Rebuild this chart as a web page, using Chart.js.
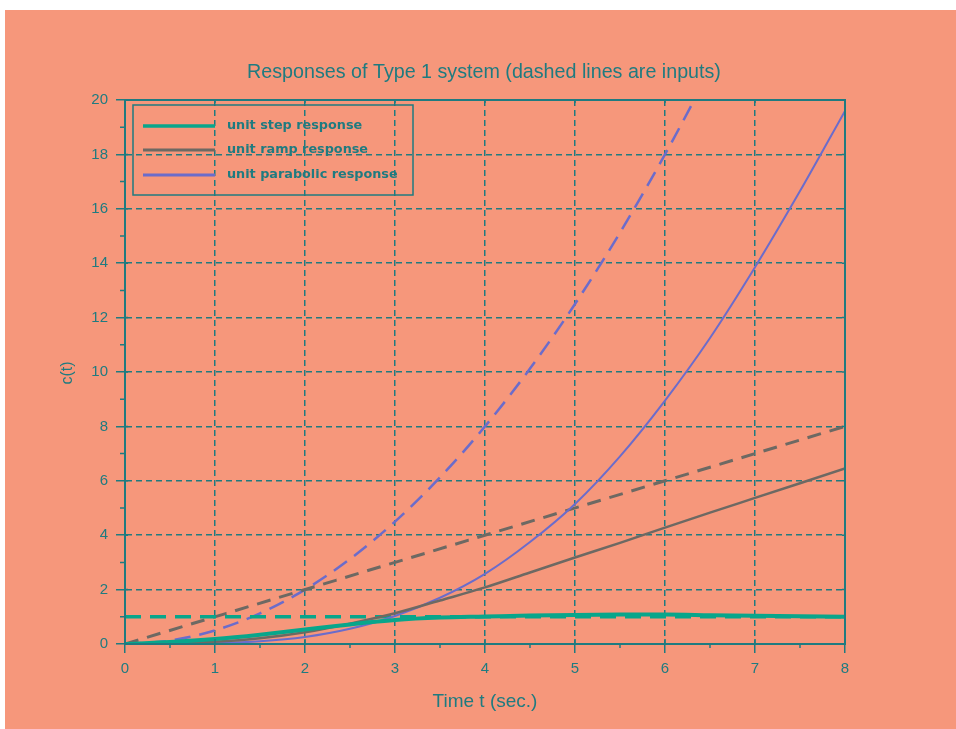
<!DOCTYPE html>
<html>
<head>
<meta charset="utf-8">
<script src="https://cdn.jsdelivr.net/npm/chart.js@4.4.1/dist/chart.umd.min.js"></script>
<style>
  html, body { margin: 0; padding: 0; background: #fff; }
  #wrap { width: 956px; height: 729px; }
</style>
</head>
<body>
<div id="wrap"><canvas id="c" width="956" height="729"></canvas></div>
<script>
// Data
const timeSec = [0, 0.5, 1, 1.5, 2, 2.5, 3, 3.5, 4, 4.5, 5, 5.5, 6, 6.5, 7, 7.5, 8];
const stepResponse = [0, 0.07, 0.18, 0.34, 0.53, 0.72, 0.88, 0.97, 1.01, 1.05, 1.07, 1.08, 1.08, 1.06, 1.04, 1.02, 1.0];
const rampResponse = [0, 0.02, 0.08, 0.21, 0.43, 0.75, 1.13, 1.6, 2.08, 2.63, 3.18, 3.72, 4.28, 4.83, 5.37, 5.91, 6.45];
const parabolicResponse = [0, 0.01, 0.03, 0.1, 0.26, 0.56, 1.03, 1.7, 2.58, 3.75, 5.15, 6.9, 8.95, 11.25, 13.85, 16.65, 19.6];

const inputTime = [0, 8];
const stepInput = [1, 1];
const rampInput = [0, 8];
const parabolicInput = [0, 0.125, 0.5, 1.125, 2, 3.125, 4.5, 6.125, 8, 10.125, 12.5, 15.125, 18, 21.125, 24.5, 28.125, 32];

const xTicks = [0, 1, 2, 3, 4, 5, 6, 7, 8];
const xMinorTicks = [0.5, 1.5, 2.5, 3.5, 4.5, 5.5, 6.5, 7.5];
const yTicks = [0, 2, 4, 6, 8, 10, 12, 14, 16, 18, 20];
const yMinorTicks = [1, 3, 5, 7, 9, 11, 13, 15, 17, 19];

const legendLabels = ['unit step response', 'unit ramp response', 'unit parabolic response'];
const titleText = 'Responses of Type 1 system (dashed lines are inputs)';
const xTitle = 'Time t (sec.)';
const yTitle = 'c(t)';

const salmon = '#f6977b';
const ink = '#1f7b80';
const cStep = '#08a68b';
const cRamp = '#6d6963';
const cPara = '#6b6ccb';

const pts = (xs, ys) => xs.map((v, i) => ({ x: v, y: ys[i] }));

const decor = {
    id: 'decor',
    beforeDraw(chart) {
        const ctx = chart.ctx;
        ctx.save();
        ctx.fillStyle = '#fff';
        ctx.fillRect(0, 0, chart.width, chart.height);
        ctx.fillStyle = salmon;
        ctx.fillRect(5, 10, chart.width - 5, chart.height - 10);
        ctx.restore();
    },
    afterDraw(chart) {
        const { ctx, chartArea: a, scales: { x, y } } = chart;
        ctx.save();

        // frame
        ctx.strokeStyle = ink;
        ctx.lineWidth = 2;
        ctx.strokeRect(a.left, a.top, a.right - a.left, a.bottom - a.top);

        // minor ticks and the inner bits of the major ticks
        ctx.lineWidth = 1.5;
        ctx.beginPath();
        xMinorTicks.forEach(v => {
            const px = x.getPixelForValue(v);
            ctx.moveTo(px, a.bottom); ctx.lineTo(px, a.bottom + 4);
        });
        yMinorTicks.forEach(v => {
            const py = y.getPixelForValue(v);
            ctx.moveTo(a.left, py); ctx.lineTo(a.left - 5, py);
        });
        xTicks.forEach(v => {
            const px = x.getPixelForValue(v);
            ctx.moveTo(px, a.bottom); ctx.lineTo(px, a.bottom - 5);
            ctx.moveTo(px, a.top); ctx.lineTo(px, a.top + 3);
        });
        yTicks.forEach(v => {
            const py = y.getPixelForValue(v);
            ctx.moveTo(a.left, py); ctx.lineTo(a.left + 3, py);
            ctx.moveTo(a.right, py); ctx.lineTo(a.right - 3, py);
        });
        ctx.stroke();

        // titles
        ctx.fillStyle = ink;
        ctx.textAlign = 'center';
        ctx.textBaseline = 'middle';
        ctx.font = '19.7px "Liberation Sans", Arial, sans-serif';
        ctx.fillText(titleText, (a.left + a.right) / 2 - 1, 73);
        ctx.font = '19px "Liberation Sans", Arial, sans-serif';
        ctx.fillText(xTitle, (a.left + a.right) / 2, 702);
        ctx.save();
        ctx.translate(68, 373);
        ctx.rotate(-Math.PI / 2);
        ctx.font = '16px "Liberation Sans", Arial, sans-serif';
        ctx.fillText(yTitle, 0, 0);
        ctx.restore();

        // legend
        const bx = 133, by = 105, bw = 280, bh = 90;
        ctx.lineWidth = 1.5;
        ctx.strokeRect(bx, by, bw, bh);
        const rows = [126, 150, 175];
        const cols = [cStep, cRamp, cPara];
        const widths = [3.5, 3, 3];
        ctx.textAlign = 'left';
        ctx.font = 'bold 12.8px "DejaVu Sans", sans-serif';
        legendLabels.forEach((lab, i) => {
            ctx.strokeStyle = cols[i];
            ctx.lineWidth = widths[i];
            ctx.beginPath();
            ctx.moveTo(143, rows[i]); ctx.lineTo(215, rows[i]);
            ctx.stroke();
            ctx.fillStyle = ink;
            ctx.fillText(lab, 227, rows[i]);
        });
        ctx.restore();
    }
};

const line = (data, color, width, dash, order) => ({
    data, borderColor: color, borderWidth: width, borderDash: dash || [],
    showLine: true, pointRadius: 0, fill: false,
    cubicInterpolationMode: 'monotone', order
});

new Chart(document.getElementById('c'), {
    type: 'scatter',
    data: {
        datasets: [
            line(pts(timeSec, stepResponse), cStep, 4, null, 1),
            line(pts(timeSec, rampResponse), cRamp, 2.5, null, 2),
            line(pts(timeSec, parabolicResponse), cPara, 2, null, 3),
            line(pts(inputTime, stepInput), cStep, 3.5, [16, 9], 4),
            line(pts(inputTime, rampInput), cRamp, 3, [14, 9], 5),
            line(pts(timeSec, parabolicInput), cPara, 2.5, [16, 9], 6)
        ]
    },
    options: {
        responsive: false,
        animation: false,
        devicePixelRatio: 1,
        layout: { padding: { top: 100, right: 111, left: 0, bottom: 0 } },
        plugins: { legend: { display: false }, title: { display: false }, tooltip: { enabled: false } },
        scales: {
            x: {
                type: 'linear', min: 0, max: 8,
                afterFit: s => { s.height = 85; },
                afterBuildTicks: s => { s.ticks = xTicks.map(v => ({ value: v })); },
                ticks: { color: ink, font: { size: 15, family: '"Liberation Sans", Arial, sans-serif' }, padding: 7 },
                grid: { color: ink, lineWidth: 1.5, tickLength: 9, tickColor: ink, tickWidth: 1.5 },
                border: { display: true, color: ink, width: 2, dash: [6, 4] }
            },
            y: {
                type: 'linear', min: 0, max: 20,
                afterFit: s => { s.width = 125; },
                afterBuildTicks: s => { s.ticks = yTicks.map(v => ({ value: v })); },
                ticks: { color: ink, font: { size: 15, family: '"Liberation Sans", Arial, sans-serif' }, padding: 8 },
                grid: { color: ink, lineWidth: 1.5, tickLength: 9, tickColor: ink, tickWidth: 1.5 },
                border: { display: true, color: ink, width: 2, dash: [6, 4] }
            }
        }
    },
    plugins: [decor]
});
</script>
</body>
</html>
